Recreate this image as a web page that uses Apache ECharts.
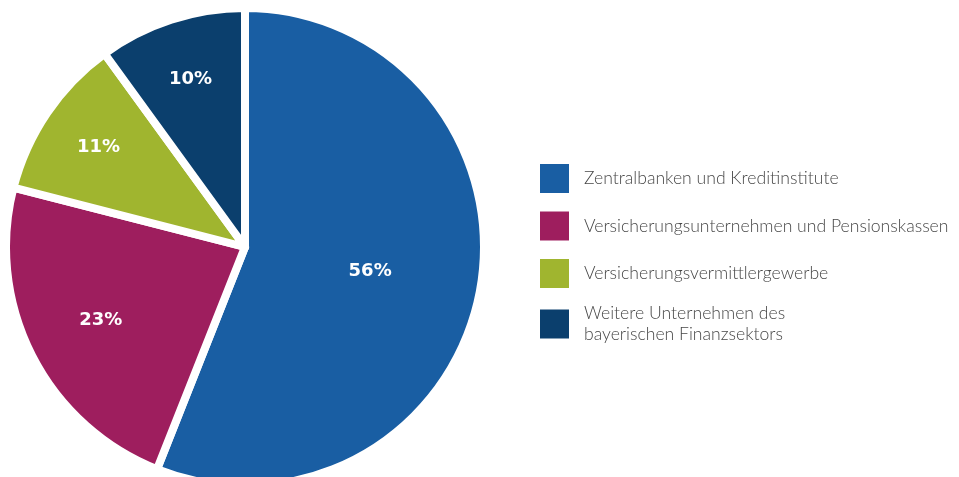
<!DOCTYPE html>
<html>
<head>
<meta charset="utf-8">
<script src="https://cdn.jsdelivr.net/npm/echarts@6/dist/echarts.min.js"></script>
<style>
  html, body { margin: 0; padding: 0; background: #fff; }
  #chart { width: 959px; height: 477px; }
</style>
</head>
<body>
<div id="chart"></div>
<script>
  // Daten
  var categories = [
    'Zentralbanken und Kreditinstitute',
    'Versicherungsunternehmen und Pensionskassen',
    'Versicherungsvermittlergewerbe',
    'Weitere Unternehmen des\nbayerischen Finanzsektors'
  ];
  var shares = [56, 23, 11, 10];
  var colors = ['#195ea3', '#9e1e5e', '#a0b52f', '#0b3f6d'];

  // Abstand der Beschriftung vom Mittelpunkt (Anteil am Radius)
  var labelRadius = [0.533, 0.677, 0.741, 0.738];
  var cx = 245, cy = 247, R = 239, startAngle = 90;

  var chart = echarts.init(document.getElementById('chart'));

  var total = shares.reduce(function (a, b) { return a + b; }, 0);
  // Mittelwinkel jedes Segments (im Uhrzeigersinn ab startAngle)
  var midAngles = [];
  var acc = 0;
  shares.forEach(function (v) {
    midAngles.push(startAngle - 360 * (acc + v / 2) / total);
    acc += v;
  });

  var pieData = categories.map(function (name, i) {
    return { name: name, value: shares[i], itemStyle: { color: colors[i] } };
  });

  var legendData = categories.map(function (name) {
    var item = { name: name };
    if (name.indexOf('\n') >= 0) {
      // zweizeiliger Text: erste Zeile auf Höhe des Kästchens
      item.textStyle = { padding: [0, 0, -21, 9] };
    }
    return item;
  });

  var option = {
    animation: false,
    legend: {
      orient: 'vertical',
      left: 533,
      top: 157,
      itemWidth: 31,
      itemHeight: 31,
      itemGap: 14.5,
      icon: 'rect',
      selectedMode: false,
      data: legendData,
      textStyle: {
        fontFamily: 'Lato, "Open Sans", sans-serif',
        fontWeight: 300,
        fontSize: 17.6,
        lineHeight: 21,
        color: '#474747',
        padding: [0, 0, 0, 9]
      }
    },
    series: [
      {
        type: 'pie',
        center: [cx, cy],
        radius: R,
        startAngle: startAngle,
        clockwise: true,
        data: pieData,
        itemStyle: {
          borderColor: '#ffffff',
          borderWidth: 8
        },
        label: {
          show: true,
          position: 'inner',
          formatter: '{c}%',
          color: '#ffffff',
          fontFamily: '"DejaVu Sans", sans-serif',
          fontWeight: 'bold',
          fontSize: 18
        },
        labelLine: { show: false },
        labelLayout: function (params) {
          var i = params.dataIndex;
          var a = midAngles[i] * Math.PI / 180;
          var d = labelRadius[i] * R;
          return { x: cx + d * Math.cos(a), y: cy - d * Math.sin(a), align: 'center', verticalAlign: 'middle' };
        },
        emphasis: { disabled: true }
      }
    ]
  };

  chart.setOption(option);
</script>
</body>
</html>
